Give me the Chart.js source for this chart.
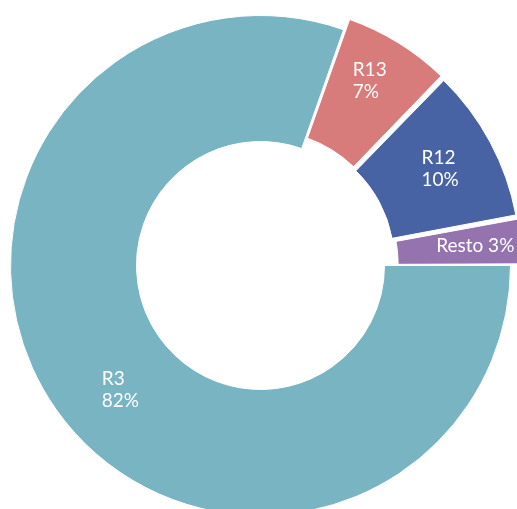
<!DOCTYPE html>
<html>
<head>
<meta charset="utf-8">
<script src="https://cdn.jsdelivr.net/npm/chart.js@4/dist/chart.umd.min.js"></script>
<style>
  html, body { margin: 0; padding: 0; background: #ffffff; overflow: hidden; width: 517px; height: 509px; }
  #wrap { position: absolute; left: -19px; top: -14px; width: 560px; height: 560px; }
</style>
</head>
<body>
<div id="wrap"><canvas id="chart" width="560" height="560"></canvas></div>
<script>
// Share of each group
const categories = ['R3', 'R13', 'R12', 'Resto'];
const shares = [82, 7, 10, 3];
const sliceColors = ['#78b4c2', '#d77c7a', '#4763a4', '#9473ae'];
const sliceOffsets = [0, 30, 30, 30];

// Label text and small placement nudges (px) relative to each slice centroid
const labelLines = [['R3', '82%'], ['R13', '7%'], ['R12', '10%'], ['Resto 3%']];
const labelNudge = [[12.5, 16.5], [4.5, -15.5], [5.5, -3], [15, -1.5]];

const LABEL_FONT = '19px "Source Sans Pro", Lato, "Noto Sans", sans-serif';
const LINE_H = 22.6;

// Centroid of an arc as Chart.js v4 draws it: the slice is moved by offset/4
// along its bisector and its radii grow by (offset/4) * (1 - sin(circumference)).
function arcCentroid(arc) {
  const p = arc.getProps(['x', 'y', 'startAngle', 'endAngle', 'innerRadius', 'outerRadius', 'circumference'], true);
  const mid = (p.startAngle + p.endAngle) / 2;
  const shift = (arc.options.offset || 0) / 4;
  const grow = shift * (1 - Math.sin(Math.min(Math.PI, p.circumference || 0)));
  const r = shift + (p.innerRadius + p.outerRadius) / 2 + grow;
  return { x: p.x + Math.cos(mid) * r, y: p.y + Math.sin(mid) * r };
}

const sliceLabels = {
  id: 'sliceLabels',
  afterDatasetsDraw(chart) {
    const ctx = chart.ctx;
    const meta = chart.getDatasetMeta(0);
    ctx.save();
    ctx.font = LABEL_FONT;
    ctx.fillStyle = '#ffffff';
    ctx.textAlign = 'left';
    ctx.textBaseline = 'middle';
    meta.data.forEach((arc, i) => {
      const c = arcCentroid(arc);
      const cx = c.x + labelNudge[i][0];
      const cy = c.y + labelNudge[i][1];
      const lines = labelLines[i];
      const w = Math.max(...lines.map(t => ctx.measureText(t).width));
      const x0 = cx - w / 2;
      const y0 = cy - (lines.length - 1) * LINE_H / 2;
      lines.forEach((t, k) => ctx.fillText(t, x0, y0 + k * LINE_H));
    });
    ctx.restore();
  }
};

new Chart(document.getElementById('chart'), {
  type: 'doughnut',
  data: {
    labels: categories,
    datasets: [{
      data: shares,
      backgroundColor: sliceColors,
      borderColor: '#ffffff',
      borderWidth: 1,
      offset: sliceOffsets,
      hoverOffset: 0
    }]
  },
  options: {
    responsive: false,
    animation: false,
    rotation: 90,
    cutout: '49.6%',
    layout: { padding: { left: 14, top: 14, right: 15, bottom: 15 } },
    plugins: {
      legend: { display: false },
      tooltip: { enabled: false }
    }
  },
  plugins: [sliceLabels]
});
</script>
</body>
</html>
